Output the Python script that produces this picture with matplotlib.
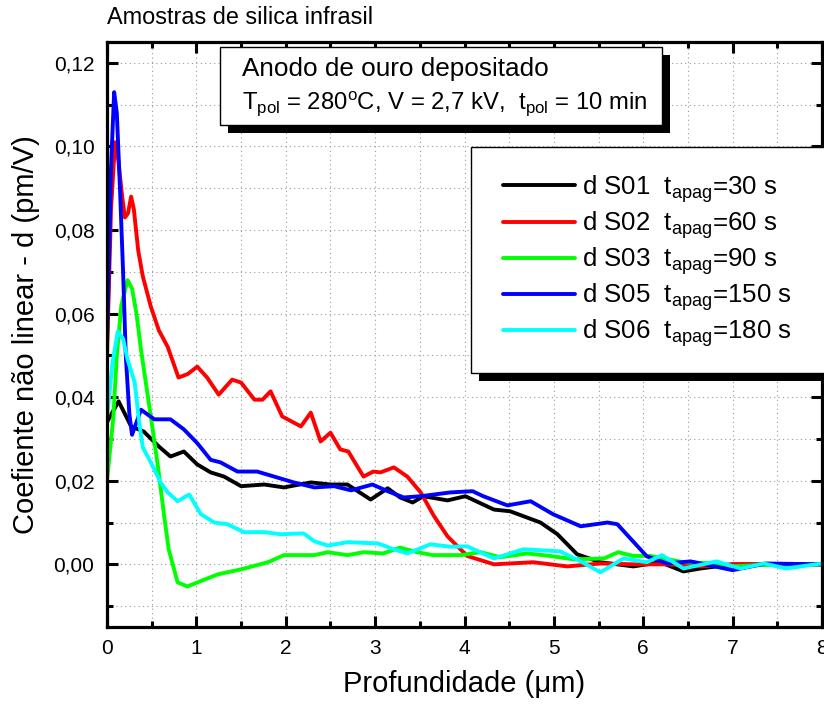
import matplotlib.pyplot as plt
from matplotlib.patches import Rectangle
from matplotlib.ticker import MultipleLocator

plt.rcParams['font.family'] = ['Liberation Sans', 'DejaVu Sans']
plt.rcParams['mathtext.fontset'] = 'custom'
plt.rcParams['mathtext.rm'] = 'Liberation Sans'
plt.rcParams['mathtext.default'] = 'regular'

# depth (um) and nonlinear coefficient d (pm/V) for each sample
x_s01 = [0, 0.05, 0.13, 0.2, 0.27, 0.41, 0.58, 0.71, 0.86, 1.01, 1.16, 1.31, 1.5, 1.76, 1.98,
         2.28, 2.5, 2.69, 2.95, 3.14, 3.28, 3.42, 3.54, 3.81, 4.01, 4.33, 4.51, 4.85, 5.04,
         5.26, 5.52, 5.89, 6.19, 6.45, 6.64, 7.0, 7.5, 8.0]
d_s01 = [0.034, 0.036, 0.039, 0.036, 0.033, 0.0318, 0.0282, 0.0258, 0.027, 0.0239, 0.022,
         0.021, 0.0187, 0.0191, 0.0184, 0.0196, 0.0191, 0.0191, 0.0155, 0.0182, 0.016, 0.0148,
         0.0163, 0.0153, 0.0163, 0.0131, 0.0127, 0.010, 0.0072, 0.0024, 0.0005, -0.0005,
         0.0005, -0.0017, -0.001, 0.0, 0.0, 0.0]

x_s02 = [0, 0.045, 0.09, 0.12, 0.17, 0.2, 0.235, 0.27, 0.3, 0.35, 0.4, 0.49, 0.58, 0.68, 0.8,
         0.9, 1.01, 1.12, 1.25, 1.4, 1.5, 1.65, 1.74, 1.83, 1.96, 2.17, 2.28, 2.39, 2.5, 2.61,
         2.7, 2.87, 2.98, 3.06, 3.21, 3.36, 3.51, 3.66, 3.81, 4.03, 4.33, 4.77, 5.15, 5.52,
         5.9, 6.27, 6.64, 7.0, 7.5, 8.0]
d_s02 = [0.05, 0.085, 0.101, 0.098, 0.088, 0.083, 0.084, 0.088, 0.085, 0.075, 0.069, 0.0617,
         0.056, 0.052, 0.0447, 0.0455, 0.0473, 0.0447, 0.0406, 0.0442, 0.0435, 0.0394, 0.0394,
         0.0414, 0.0354, 0.033, 0.0363, 0.0294, 0.0315, 0.0275, 0.027, 0.021, 0.0222, 0.022,
         0.0232, 0.021, 0.0172, 0.0115, 0.0067, 0.002, 0.0, 0.0005, -0.0005, 0.0002, 0.0, 0.0,
         -0.0005, 0.0, 0.0, 0.0]

x_s03 = [0, 0.07, 0.11, 0.16, 0.23, 0.28, 0.33, 0.38, 0.49, 0.57, 0.64, 0.69, 0.79, 0.9, 1.05,
         1.24, 1.5, 1.8, 1.98, 2.32, 2.47, 2.69, 2.87, 3.09, 3.28, 3.47, 3.65, 3.96, 4.18, 4.4,
         4.7, 4.96, 5.22, 5.56, 5.72, 5.89, 6.08, 6.45, 6.82, 7.0, 7.5, 8.0]
d_s03 = [0.02, 0.035, 0.05, 0.062, 0.068, 0.066, 0.06, 0.0514, 0.0354, 0.0234, 0.0115, 0.0036,
         -0.0043, -0.0053, -0.004, -0.0024, -0.0012, 0.0005, 0.0022, 0.0022, 0.0029, 0.0022,
         0.0029, 0.0026, 0.004, 0.0029, 0.0022, 0.0022, 0.0029, 0.0017, 0.0026, 0.002, 0.0012,
         0.0014, 0.0029, 0.002, 0.002, 0.0005, 0.0002, -0.0005, 0.0, 0.0]

x_s05 = [0, 0.02, 0.045, 0.08, 0.11, 0.145, 0.18, 0.21, 0.25, 0.28, 0.38, 0.53, 0.71, 0.86,
         1.01, 1.16, 1.27, 1.46, 1.68, 1.87, 2.09, 2.32, 2.54, 2.73, 2.97, 3.14, 3.32, 3.51,
         3.84, 4.09, 4.21, 4.48, 4.74, 4.99, 5.3, 5.6, 5.71, 6.04, 6.27, 6.53, 7.0, 7.37, 8.0]
d_s05 = [0.053, 0.07, 0.095, 0.113, 0.108, 0.09, 0.07, 0.05, 0.036, 0.031, 0.037, 0.0347,
         0.0347, 0.0323, 0.029, 0.025, 0.0244, 0.0222, 0.0222, 0.021, 0.0196, 0.0184, 0.0187,
         0.0177, 0.0191, 0.0175, 0.016, 0.0163, 0.0172, 0.0175, 0.0163, 0.0141, 0.0151, 0.012,
         0.0091, 0.010, 0.0096, 0.0019, 0.0002, 0.0007, -0.0014, 0.0002, 0.0]

x_s06 = [0, 0.06, 0.12, 0.18, 0.23, 0.31, 0.36, 0.4, 0.49, 0.6, 0.68, 0.79, 0.92, 1.05, 1.2,
         1.35, 1.53, 1.76, 1.94, 2.2, 2.32, 2.47, 2.69, 3.03, 3.21, 3.36, 3.62, 3.84, 4.03,
         4.33, 4.66, 5.07, 5.3, 5.52, 5.78, 6.04, 6.21, 6.45, 6.82, 7.09, 7.35, 7.6, 8.0]
d_s06 = [0.035, 0.048, 0.0557, 0.054, 0.049, 0.0435, 0.034, 0.028, 0.0244, 0.0196, 0.0172,
         0.0151, 0.0167, 0.012, 0.010, 0.0096, 0.0077, 0.0077, 0.0072, 0.0074, 0.0055, 0.0045,
         0.0053, 0.005, 0.0036, 0.0026, 0.0048, 0.0042, 0.0043, 0.0014, 0.0036, 0.0031, 0.0007,
         -0.0019, 0.0014, 0.0005, 0.0022, -0.001, 0.0007, -0.001, 0.0002, -0.001, 0.0002]

labels = ['d S01  t$_{apag}$=30 s', 'd S02  t$_{apag}$=60 s', 'd S03  t$_{apag}$=90 s',
          'd S05  t$_{apag}$=150 s', 'd S06  t$_{apag}$=180 s']
colors = ['#000000', '#ff0000', '#00ff00', '#0000ff', '#00ffff']

y_ticks = [0.0, 0.02, 0.04, 0.06, 0.08, 0.10, 0.12]
y_tick_labels = ['0,00', '0,02', '0,04', '0,06', '0,08', '0,10', '0,12']
x_ticks = [0, 1, 2, 3, 4, 5, 6, 7, 8]

W, H = 824, 706
fig = plt.figure(figsize=(W / 100, H / 100), dpi=100)
ax = fig.add_axes([107 / W, 1 - 627 / H, 715 / W, 585 / H])

series = [(x_s01, d_s01), (x_s02, d_s02), (x_s03, d_s03), (x_s05, d_s05), (x_s06, d_s06)]
handles = []
for (xs, ys), lab, c in zip(series, labels, colors):
    h, = ax.plot(xs, ys, color=c, lw=2.8, label=lab, solid_joinstyle='round',
                 solid_capstyle='round')
    handles.append(h)

ax.set_xlim(0, 8)
ax.set_ylim(-0.015, 0.125)
ax.set_xticks(x_ticks)
ax.set_xticklabels([str(v) for v in x_ticks])
ax.set_yticks(y_ticks)
ax.set_yticklabels(y_tick_labels)
ax.xaxis.set_minor_locator(MultipleLocator(0.5))
ax.yaxis.set_minor_locator(MultipleLocator(0.01))
ax.set_axisbelow(True)
ax.grid(which='both', linestyle=(0, (1, 3)), color='#999999', linewidth=0.8)

for s in ax.spines.values():
    s.set_linewidth(2.3)
ax.tick_params(which='both', direction='in', top=True, right=True, width=2.2, labelsize=15)
ax.tick_params(which='major', length=8, pad=9)
ax.tick_params(which='minor', length=4.5)

ax.set_xlabel('Profundidade (μm)', fontsize=21, labelpad=8)
ax.set_ylabel('Coefiente não linear - d (pm/V)', fontsize=21, labelpad=10)

fig.text(107 / W, 1 - 18 / H, 'Amostras de silica infrasil', fontsize=16.9, va='center', ha='left')

# white box with a black drop shadow, given in pixels from the top-left corner
def boxed(x0, y0, x1, y1, off=8):
    fig.add_artist(Rectangle((x0 / W + off / W, 1 - (y1 + off) / H), (x1 - x0) / W, (y1 - y0) / H,
                             transform=fig.transFigure, facecolor='black', edgecolor='none', zorder=5))
    fig.add_artist(Rectangle((x0 / W, 1 - y1 / H), (x1 - x0) / W, (y1 - y0) / H,
                             transform=fig.transFigure, facecolor='white', edgecolor='black',
                             linewidth=1.0, zorder=6))

boxed(220, 47, 662, 125)
fig.text(242 / W, 1 - 76 / H, 'Anodo de ouro depositado', fontsize=18.8, va='baseline', zorder=7)
fig.text(242 / W, 1 - 109 / H, 'T$_{pol}$ = 280$^{o}$C, V = 2,7 kV,  t$_{pol}$ = 10 min',
         fontsize=17.2, va='baseline', zorder=7)

boxed(471, 147, 840, 373)
leg = fig.legend(handles=handles, loc='upper left', bbox_to_anchor=(503 / W, 1 - 173 / H),
                 frameon=False, fontsize=18.6, handlelength=2.8, handletextpad=0.25,
                 labelspacing=0.17, borderpad=0, borderaxespad=0)
leg.set_zorder(8)

fig.savefig('out.png', dpi=100)
